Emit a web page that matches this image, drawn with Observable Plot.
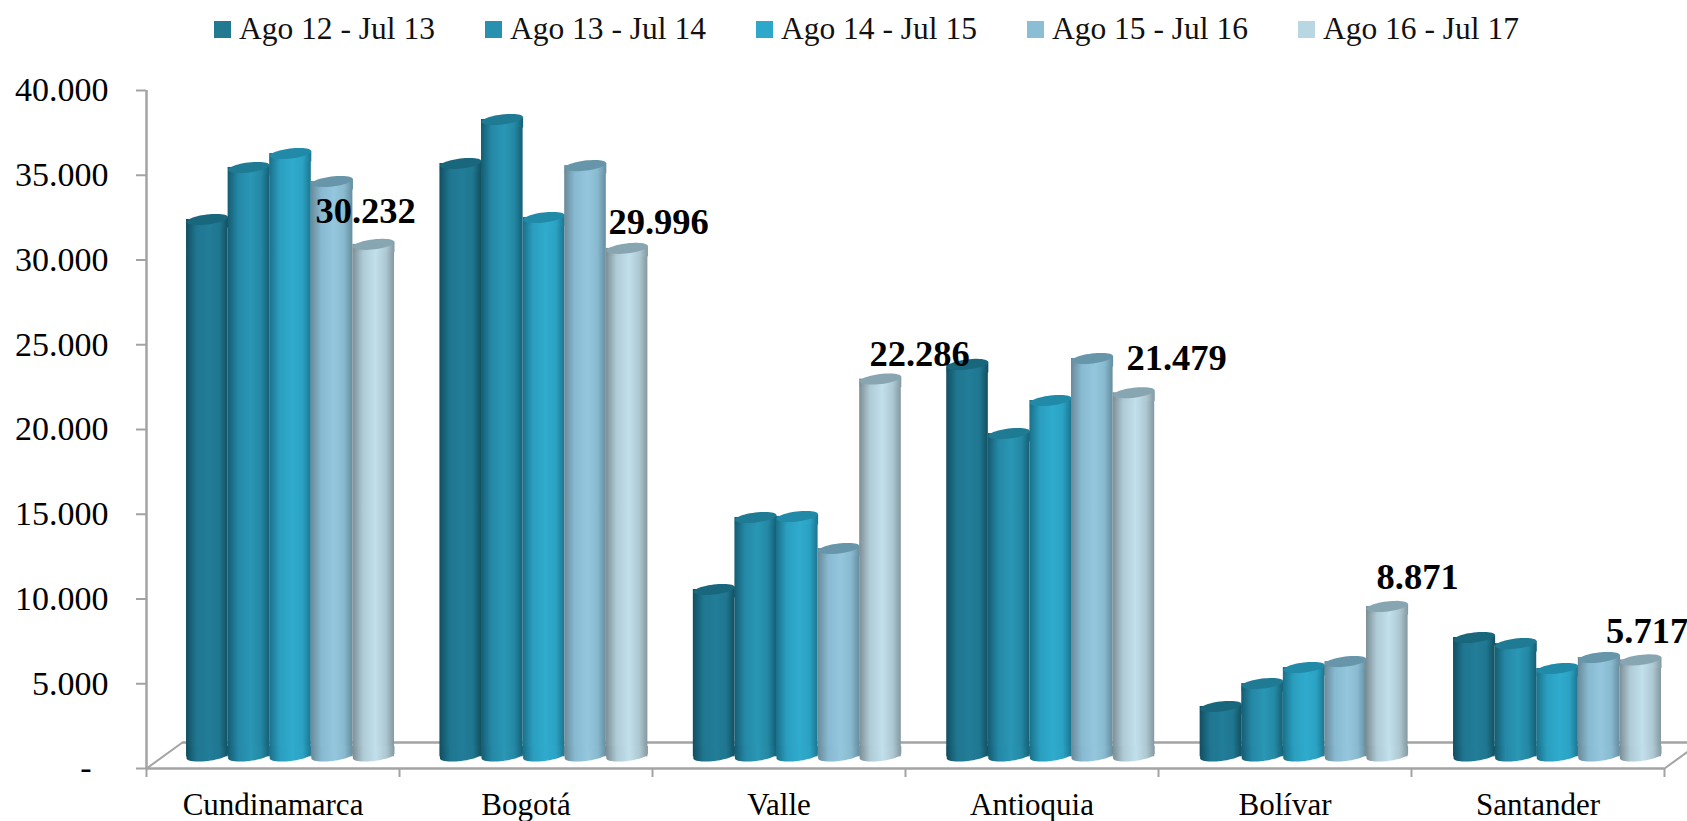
<!DOCTYPE html>
<html lang="es">
<head>
<meta charset="utf-8">
<script src="https://cdn.jsdelivr.net/npm/d3@7"></script>
<script src="https://cdn.jsdelivr.net/npm/@observablehq/plot@0.6"></script>
<style>
html,body{margin:0;padding:0;background:#fff;overflow:hidden}
#legend div.lg{margin:0;padding:0}
#legend{height:60px;box-sizing:border-box;padding:11px 0 0 214px}
#legend .lg-swatches-wrap{min-height:33px;flex-wrap:nowrap}
#legend .lg-swatches-wrap .lg-swatch{width:271px;margin:0;flex:none}
#legend .lg-swatch>svg{margin-right:8px}
#chart svg{display:block}
</style>
</head>
<body>
<div id="legend"></div>
<div id="chart"></div>
<script>
const categories = ["Cundinamarca", "Bogotá", "Valle", "Antioquia", "Bolívar", "Santander"];
const periods = ["Ago 12 - Jul 13", "Ago 13 - Jul 14", "Ago 14 - Jul 15", "Ago 15 - Jul 16", "Ago 16 - Jul 17"];
const ago12 = [31700, 35000, 9870, 23150, 2970, 7040];
const ago13 = [34770, 37600, 14120, 19070, 4320, 6680];
const ago14 = [35590, 31820, 14180, 21020, 5270, 5210];
const ago15 = [33940, 34880, 12290, 23500, 5620, 5860];
const ago16 = [30232, 29996, 22286, 21479, 8871, 5717];
const yTicks = [0, 5000, 10000, 15000, 20000, 25000, 30000, 35000, 40000];
const seriesValues = [ago12, ago13, ago14, ago15, ago16];

// appearance
const swatchColors = ["#217a90", "#2891b0", "#2ea8ca", "#8bbdd4", "#b9d7e3"];
const capColors = ["#19677d", "#1f7b93", "#208aa8", "#6795a9", "#88a5b2"];
const gradients = [
  ["#124f62", "#1f7690", "#227d98", "#1f7690", "#12505f"],
  ["#155c72", "#2488a6", "#2997b5", "#2488a4", "#155f75"],
  ["#1a7089", "#2a9ebf", "#2fabcd", "#2ba2c3", "#1b7590"],
  ["#6a8a99", "#87b9d0", "#94c7dd", "#88b9cf", "#668d9e"],
  ["#7c8e95", "#aecad5", "#c1e0ec", "#aec8d3", "#84989f"]
];
const stops = ["0%", "25%", "55%", "80%", "100%"];
const gray = "#a3a3a3";
const serif = "'Liberation Serif', serif";
const barWidth = 0.1644, groupDx = 17.5, baseDy = -11.7, groupDrift = 0.0016;
const depthX = 0.142, depthY = 1533;
// where each value label sits relative to the top of its cylinder (px)
const labelDx = [-8, 32, 40, 44, 32, 8.5];
const labelDy = [-33, -26.5, -25, -34, -29, -28.5];

const legend = Plot.legend({
  color: {domain: periods, range: swatchColors},
  legend: "swatches",
  swatchSize: 17,
  className: "lg",
  style: {fontFamily: serif, fontSize: "31.5px", color: "#111"}
});
document.getElementById("legend").append(legend);

// shapes of the cylinder: tilted ellipse (cap), the body just under it, and the rounded foot
const capA = 20.8, capB = 5, tilt = -7 * Math.PI / 180;
const ellipsePoint = (u) => {
  const px = capA * Math.cos(u), py = capB * Math.sin(u);
  return [px * Math.cos(tilt) - py * Math.sin(tilt), px * Math.sin(tilt) + py * Math.cos(tilt)];
};
const tipY = capA * Math.sin(-tilt);
const capSymbol = {
  draw(ctx) {
    for (let k = 0; k < 48; ++k) {
      const [X, Y] = ellipsePoint(k / 48 * 2 * Math.PI);
      k ? ctx.lineTo(X, Y) : ctx.moveTo(X, Y);
    }
    ctx.closePath();
  }
};
const neckSymbol = {
  draw(ctx) {
    ctx.moveTo(-capA, tipY);
    ctx.lineTo(capA, -tipY);
    ctx.lineTo(capA, 8);
    ctx.lineTo(-capA, 8);
    ctx.closePath();
  }
};
const footSymbol = {
  draw(ctx) {
    ctx.moveTo(capA, -10);
    ctx.lineTo(capA, -tipY);
    for (let k = 1; k < 24; ++k) {
      const [X, Y] = ellipsePoint(k / 24 * Math.PI);
      ctx.lineTo(Math.max(-capA, Math.min(capA, X)), Y);
    }
    ctx.lineTo(-capA, tipY);
    ctx.lineTo(-capA, -10);
    ctx.closePath();
  }
};

const defs = () => {
  const ns = "http://www.w3.org/2000/svg";
  const d = document.createElementNS(ns, "defs");
  gradients.forEach((g, j) => {
    const lg = document.createElementNS(ns, "linearGradient");
    lg.setAttribute("id", "cyl" + j);
    g.forEach((c, k) => {
      const s = document.createElementNS(ns, "stop");
      s.setAttribute("offset", stops[k]);
      s.setAttribute("stop-color", c);
      lg.append(s);
    });
    d.append(lg);
  });
  return d;
};

const rowsFor = (j) => categories.map((c, i) => ({
  c, v: seriesValues[j][i],
  x0: i + 0.5 + i * groupDrift + (j - 2.5) * barWidth,
  xm: i + 0.5 + i * groupDrift + (j - 2) * barWidth
}));

const cylinders = periods.flatMap((p, j) => {
  const rows = rowsFor(j);
  const fill = `url(#cyl${j})`;
  return [
    Plot.rectY(rows, {x1: "x0", x2: (d) => d.x0 + barWidth, y1: () => 0, y2: "v", dx: groupDx, dy: baseDy, fill}),
    Plot.dot(rows, {x: "xm", y: () => 0, dx: groupDx, dy: baseDy - 0.8, symbol: footSymbol, r: 10, fill}),
    Plot.dot(rows, {x: "xm", y: "v", dx: groupDx, dy: baseDy, symbol: neckSymbol, r: 10, fill}),
    Plot.dot(rows, {x: "xm", y: "v", dx: groupDx, dy: baseDy, symbol: capSymbol, r: 10, fill: capColors[j]})
  ];
});

const labelRows = categories.map((c, i) => ({i, v: ago16[i]}));
const fmt = (v) => d3.format(",")(v).replace(/,/g, ".");

const chart = Plot.plot({
  width: 1687,
  height: 761,
  marginTop: 30,
  marginBottom: 53,
  marginLeft: 146,
  marginRight: 23,
  style: {fontFamily: serif, background: "#fff", color: "#000"},
  x: {domain: [0, 6], axis: null},
  y: {domain: [0, 40000], axis: null},
  marks: [
    defs,
    // floor of the 3D box
    Plot.ruleY([0], {x1: 0, x2: 6, stroke: gray, strokeWidth: 2.5}),
    Plot.ruleY([depthY], {x1: depthX, x2: 6 + depthX, stroke: gray, strokeWidth: 2.5}),
    Plot.link([0, 6], {x1: (d) => d, y1: () => 0, x2: (d) => d + depthX, y2: () => depthY, stroke: gray, strokeWidth: 2}),
    Plot.ruleX([0], {y1: 0, y2: 40000, stroke: gray, strokeWidth: 2.5}),
    Plot.axisY({ticks: yTicks, tickSize: 10, tickPadding: 28, stroke: gray, strokeWidth: 2, fill: "#000", fontSize: 34, label: null,
      tickFormat: (v) => v === 0 ? "-\u00a0\u00a0" : fmt(v)}),
    Plot.axisX({ticks: [0, 1, 2, 3, 4, 5, 6], tickSize: 9, stroke: gray, strokeWidth: 2, tickFormat: () => "", label: null}),
    Plot.axisX({ticks: [0.5, 1.5, 2.5, 3.5, 4.5, 5.5], tickSize: 0, tickPadding: 24, fill: "#000", fontSize: 31, label: null,
      tickFormat: (v) => categories[Math.floor(v)]}),
    ...cylinders,
    ...labelRows.map((d) => Plot.text([d], {
      x: d.i + 0.5 + 2 * barWidth, y: "v", text: (r) => fmt(r.v),
      dx: groupDx + labelDx[d.i], dy: baseDy + labelDy[d.i],
      fontSize: 36.5, fontWeight: 700, fill: "#000"
    }))
  ]
});
document.getElementById("chart").append(chart);
</script>
</body>
</html>
